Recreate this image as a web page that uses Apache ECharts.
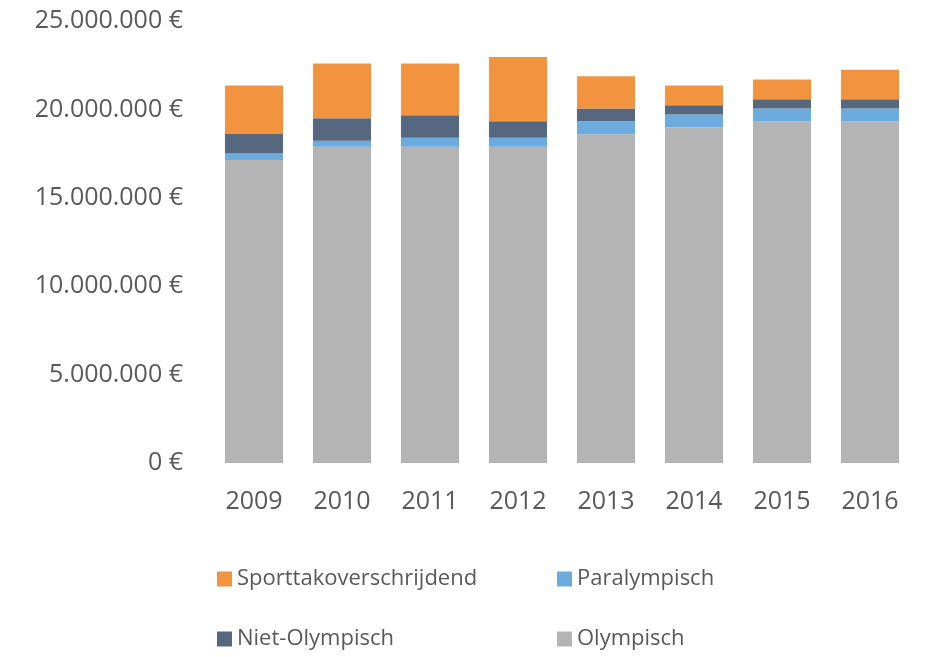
<!DOCTYPE html>
<html>
<head>
<meta charset="utf-8">
<script src="https://cdn.jsdelivr.net/npm/echarts@6/dist/echarts.min.js"></script>
<style>
  html, body { margin: 0; padding: 0; background: #fff; }
  #chart { width: 931px; height: 657px; }
</style>
</head>
<body>
<div id="chart"></div>
<script>
// years on the x axis
const years = ["2009", "2010", "2011", "2012", "2013", "2014", "2015", "2016"];

// values in euro
const olympisch = [17140000, 17890000, 17890000, 17890000, 18590000, 18970000, 19330000, 19330000];
const paralympisch = [360000, 340000, 510000, 510000, 740000, 740000, 720000, 720000];
const nietOlympisch = [1110000, 1270000, 1270000, 930000, 720000, 520000, 520000, 520000];
const sporttak = [2740000, 3090000, 2920000, 3640000, 1820000, 1120000, 1120000, 1670000];

const yTicks = [0, 5000000, 10000000, 15000000, 20000000, 25000000];

const textColor = "#595959";
const fontFamily = "'Open Sans', 'Noto Sans', sans-serif";

// 25000000 -> "25.000.000 €"
function euro(v) {
  return String(v).replace(/\B(?=(\d{3})+(?!\d))/g, ".") + " €";
}

function legendItem(name, left, top) {
  return {
    data: [name],
    left: left,
    top: top,
    itemWidth: 15,
    itemHeight: 15,
    icon: "rect",
    textStyle: { color: textColor, fontSize: 22, fontFamily: fontFamily },
    itemGap: 0
  };
}

const chart = echarts.init(document.getElementById("chart"));

const option = {
  animation: false,
  color: ["#b4b4b4", "#6babdd", "#566880", "#f29340"],
  grid: { left: 210, right: 17, top: 21, bottom: 194 },
  legend: [
    legendItem("Sporttakoverschrijdend", 212, 563),
    legendItem("Paralympisch", 552, 563),
    legendItem("Niet-Olympisch", 212, 623),
    legendItem("Olympisch", 552, 623)
  ],
  xAxis: {
    type: "category",
    data: years,
    axisLine: { show: false },
    axisTick: { show: false },
    axisLabel: { color: textColor, fontSize: 25, fontFamily: fontFamily, margin: 26 }
  },
  yAxis: {
    type: "value",
    min: yTicks[0],
    max: yTicks[yTicks.length - 1],
    interval: yTicks[1] - yTicks[0],
    splitLine: { show: false },
    axisLine: { show: false },
    axisTick: { show: false },
    axisLabel: {
      color: textColor, fontSize: 25, fontFamily: fontFamily, margin: 27,
      padding: [8, 0, 0, 0], formatter: euro
    }
  },
  series: [
    { name: "Olympisch", type: "bar", stack: "total", barWidth: "66%", data: olympisch },
    { name: "Paralympisch", type: "bar", stack: "total", data: paralympisch },
    { name: "Niet-Olympisch", type: "bar", stack: "total", data: nietOlympisch },
    { name: "Sporttakoverschrijdend", type: "bar", stack: "total", data: sporttak }
  ]
};

chart.setOption(option);
</script>
</body>
</html>
